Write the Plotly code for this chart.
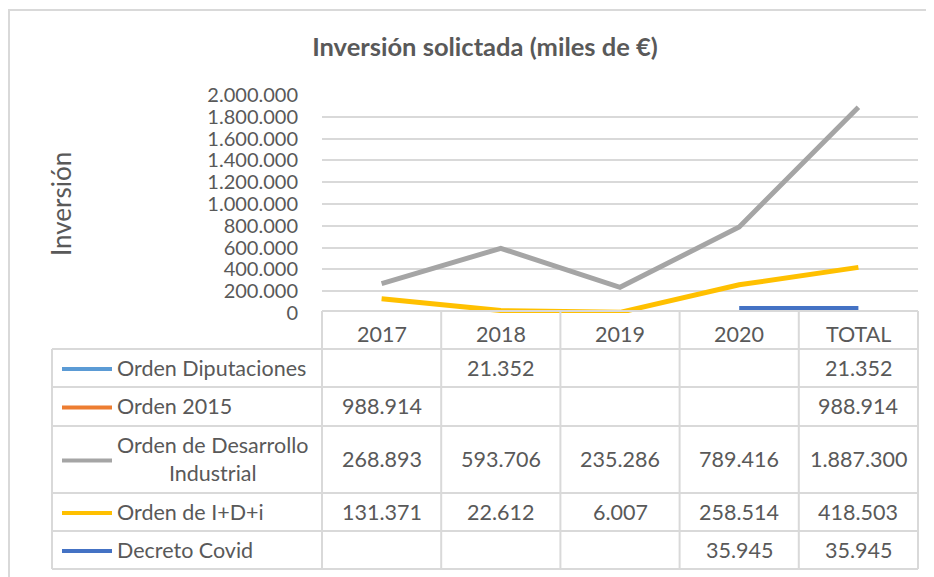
import plotly.graph_objects as go

categories = ["2017", "2018", "2019", "2020", "TOTAL"]
series_names = ["Orden Diputaciones", "Orden 2015", "Orden de Desarrollo<br>Industrial",
                "Orden de I+D+i", "Decreto Covid"]
orden_diputaciones = [None, 21352, None, None, 21352]
orden_2015 = [988914, None, None, None, 988914]
orden_desarrollo = [268893, 593706, 235286, 789416, 1887300]
orden_idi = [131371, 22612, 6007, 258514, 418503]
decreto_covid = [None, None, None, 35945, 35945]
colors = ["#5B9BD5", "#ED7D31", "#A5A5A5", "#FFC000", "#4472C4"]
y_ticks = [0, 200000, 400000, 600000, 800000, 1000000, 1200000, 1400000,
           1600000, 1800000, 2000000]

series = [orden_diputaciones, orden_2015, orden_desarrollo, orden_idi, decreto_covid]

W, H = 934, 577
OFF = 8  # page body margin offset
FONT = "Lato"
TXT = "#595959"
GRID = "#D9D9D9"


def px(x):
    return (x - OFF) / W


def py(y):
    return 1 - (y - OFF) / H


def fmt(v):
    return "" if v is None else f"{v:,}".replace(",", ".")


# plot area in pixels (screen coords of the reference)
X0, X1 = 322, 918
Y_TOP, Y_ZERO = 95, 313

fig = go.Figure()
for name, vals, col in zip(series_names, series, colors):
    fig.add_trace(go.Scatter(
        x=categories, y=vals, mode="lines", name=name.replace("<br>", " "),
        line=dict(color=col, width=5 if name != "Decreto Covid" else 6),
        connectgaps=False, showlegend=False, hoverinfo="skip"))

fig.update_layout(
    width=W, height=H, autosize=False,
    margin=dict(l=0, r=0, t=0, b=0, autoexpand=False),
    paper_bgcolor="white", plot_bgcolor="white",
    separators=",.",
    font=dict(family=FONT, color=TXT, size=20),
    title=dict(text="<b>Inversión solictada (miles de €)</b>",
               x=px(485), xanchor="center", y=py(47), yanchor="middle",
               font=dict(family=FONT, size=25.5, color=TXT)),
    xaxis=dict(domain=[px(X0), px(X1)], type="category", range=[-0.5, 4.5],
               showticklabels=False, showgrid=False, zeroline=False,
               showline=False, ticks="", automargin=False),
    yaxis=dict(domain=[py(Y_ZERO), py(Y_TOP)], range=[0, 2000000],
               tickvals=y_ticks, tickformat=",d", automargin=False,
               showgrid=True, gridcolor=GRID, gridwidth=1.5,
               zeroline=False, showline=False, ticks="",
               tickfont=dict(family=FONT, size=20, color=TXT),
               ticklabelstandoff=23),
)

shapes = []
annotations = []

# y axis title
annotations.append(dict(xref="paper", yref="paper", x=px(61), y=py(204),
                        text="Inversión", textangle=-90, showarrow=False,
                        xanchor="center", yanchor="middle",
                        font=dict(family=FONT, size=26, color=TXT)))

# outer chart border
shapes.append(dict(type="line", xref="paper", yref="paper", x0=px(8), x1=px(945),
                   y0=py(10), y1=py(10), line=dict(color=GRID, width=2)))
shapes.append(dict(type="line", xref="paper", yref="paper", x0=px(9), x1=px(9),
                   y0=py(10), y1=py(590), line=dict(color=GRID, width=2)))

# table geometry
col_w = (X1 - X0) / len(categories)
col_edges = [X0 + i * col_w for i in range(len(categories) + 1)]
LBL_X0 = 52
HDR_TOP = 311
row_edges = [311, 349, 387, 426, 493, 531, 569]

lw = 2
for i, y in enumerate(row_edges):
    xs = X0 if i == 0 else LBL_X0
    shapes.append(dict(type="line", xref="paper", yref="paper", x0=px(xs), x1=px(X1),
                       y0=py(y), y1=py(y), line=dict(color=GRID, width=lw)))
for xe in col_edges:
    shapes.append(dict(type="line", xref="paper", yref="paper", x0=px(xe), x1=px(xe),
                       y0=py(HDR_TOP), y1=py(row_edges[-1]), line=dict(color=GRID, width=lw)))
shapes.append(dict(type="line", xref="paper", yref="paper", x0=px(LBL_X0), x1=px(LBL_X0),
                   y0=py(row_edges[1]), y1=py(row_edges[-1]), line=dict(color=GRID, width=lw)))

TFS = 21.5
for i, c in enumerate(categories):
    cx = (col_edges[i] + col_edges[i + 1]) / 2
    annotations.append(dict(xref="paper", yref="paper", x=px(cx), y=py(334),
                            text=c, showarrow=False, xanchor="center", yanchor="middle",
                            font=dict(family=FONT, size=TFS, color=TXT)))

for r, (name, vals, col) in enumerate(zip(series_names, series, colors)):
    top, bot = row_edges[r + 1], row_edges[r + 2]
    cy = (top + bot) / 2
    shapes.append(dict(type="line", xref="paper", yref="paper", x0=px(62), x1=px(112),
                       y0=py(cy + 1), y1=py(cy + 1), line=dict(color=col, width=4)))
    annotations.append(dict(xref="paper", yref="paper", x=px(115), y=py(cy),
                            text=name, showarrow=False, xanchor="left", yanchor="middle",
                            align="center",
                            font=dict(family=FONT, size=TFS, color=TXT)))
    for i, v in enumerate(vals):
        if v is None:
            continue
        cx = (col_edges[i] + col_edges[i + 1]) / 2
        annotations.append(dict(xref="paper", yref="paper", x=px(cx), y=py(cy),
                                text=fmt(v), showarrow=False, xanchor="center",
                                yanchor="middle",
                                font=dict(family=FONT, size=TFS, color=TXT)))

fig.update_layout(shapes=shapes, annotations=annotations)
fig.write_html("out.html")
